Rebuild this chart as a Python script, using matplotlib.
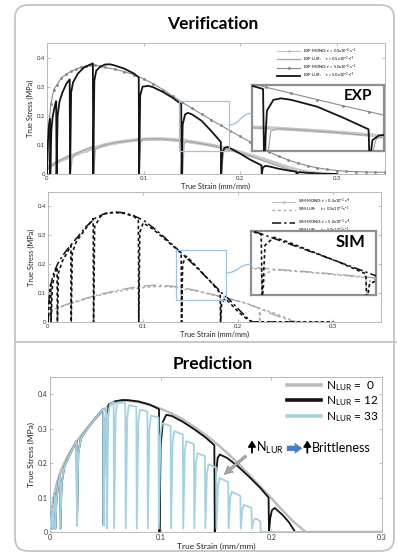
"""Verification / prediction panels for true stress-strain under loading-unloading-reloading (LUR)."""

import matplotlib

matplotlib.use("Agg")

import matplotlib.pyplot as plt  # noqa: E402
from matplotlib.lines import Line2D  # noqa: E402
from matplotlib.patches import FancyBboxPatch, PathPatch, Rectangle  # noqa: E402
from matplotlib.path import Path  # noqa: E402

plt.rcParams.update({
    "font.family": ["Lato", "DejaVu Sans"],
    "mathtext.fontset": "custom",
    "mathtext.rm": "Lato",
    "mathtext.it": "Lato:italic",
    "mathtext.bf": "Lato:bold",
})

# ---- experimental curves -------------------------------------------------
exp_mono_fast_strain = [0, 0.002, 0.004, 0.007, 0.01, 0.015, 0.02, 0.025, 0.03, 0.035, 0.04, 0.045,
                        0.05, 0.055, 0.06, 0.07, 0.08, 0.09, 0.1, 0.11, 0.12, 0.13, 0.14, 0.15, 0.16,
                        0.17, 0.18, 0.19, 0.2, 0.21, 0.22, 0.23, 0.24, 0.25, 0.26, 0.27, 0.28, 0.29,
                        0.3, 0.31, 0.32, 0.33, 0.34, 0.35]
exp_mono_fast_stress = [0, 0.17, 0.24, 0.29, 0.305, 0.33, 0.343, 0.353, 0.36, 0.366, 0.371, 0.375,
                        0.374, 0.37, 0.366, 0.36, 0.352, 0.341, 0.327, 0.31, 0.29, 0.268, 0.246, 0.226,
                        0.206, 0.186, 0.167, 0.148, 0.129, 0.111, 0.093, 0.076, 0.061, 0.048, 0.037,
                        0.028, 0.021, 0.016, 0.012, 0.009, 0.008, 0.007, 0.006, 0.006]

exp_lur_fast_strain = [0, 0.0008, 0.0018, 0.003, 0.0034, 0.0045, 0.006, 0.0085, 0.0095, 0.0099, 0.011,
                       0.013, 0.016, 0.02, 0.0235, 0.0239, 0.025, 0.027, 0.032, 0.038, 0.044, 0.0475,
                       0.0479, 0.049, 0.051, 0.055, 0.06, 0.065, 0.07, 0.08, 0.09, 0.095, 0.0954,
                       0.0965, 0.099, 0.105, 0.11, 0.12, 0.13, 0.139, 0.1394, 0.1405, 0.143, 0.146,
                       0.15, 0.16, 0.17, 0.18, 0.1804, 0.1815, 0.184, 0.187, 0.19, 0.2, 0.21, 0.222,
                       0.2224, 0.2235, 0.226, 0.23, 0.24, 0.25, 0.258, 0.2584, 0.2595, 0.262, 0.27,
                       0.28, 0.29, 0.3]
exp_lur_fast_stress = [0, 0.1, 0.16, 0.19, 0.0, 0.15, 0.2, 0.24, 0.25, 0.0, 0.2, 0.25, 0.28, 0.31,
                       0.325, 0.0, 0.28, 0.315, 0.345, 0.365, 0.375, 0.38, 0.0, 0.32, 0.355, 0.368,
                       0.376, 0.377, 0.373, 0.362, 0.345, 0.332, 0.0, 0.27, 0.3, 0.303, 0.298, 0.282,
                       0.262, 0.24, 0.0, 0.17, 0.205, 0.21, 0.205, 0.183, 0.148, 0.11, 0.0, 0.075,
                       0.09, 0.093, 0.088, 0.07, 0.05, 0.03, 0.0, 0.022, 0.028, 0.026, 0.018, 0.012,
                       0.008, 0.0, 0.004, 0.006, 0.004, 0.002, 0.001, 0.0]

exp_mono_slow_strain = [0, 0.01, 0.02, 0.03, 0.04, 0.05, 0.06, 0.07, 0.08, 0.09, 0.1, 0.11, 0.12, 0.13,
                        0.14, 0.15, 0.16, 0.17, 0.18, 0.19, 0.2, 0.21, 0.22, 0.23, 0.24, 0.25, 0.26,
                        0.27, 0.28]
exp_mono_slow_stress = [0.02, 0.04, 0.055, 0.068, 0.08, 0.09, 0.1, 0.107, 0.112, 0.116, 0.119, 0.12,
                        0.12, 0.118, 0.115, 0.11, 0.105, 0.099, 0.092, 0.084, 0.075, 0.065, 0.055,
                        0.044, 0.033, 0.022, 0.013, 0.006, 0.002]

exp_lur_slow_strain = [0, 0.001, 0.005, 0.01, 0.015, 0.024, 0.0244, 0.026, 0.03, 0.04, 0.048, 0.0484,
                       0.05, 0.06, 0.07, 0.08, 0.095, 0.0954, 0.097, 0.1, 0.11, 0.12, 0.13, 0.14,
                       0.1404, 0.142, 0.145, 0.15, 0.16, 0.17, 0.18, 0.1804, 0.183, 0.186, 0.2, 0.21,
                       0.22, 0.23, 0.24, 0.25, 0.26, 0.27, 0.28]
exp_lur_slow_stress = [0, 0.02, 0.03, 0.04, 0.05, 0.065, 0.0, 0.055, 0.07, 0.085, 0.095, 0.0, 0.085,
                       0.1, 0.107, 0.112, 0.118, 0.0, 0.11, 0.12, 0.121, 0.12, 0.117, 0.113, 0.0,
                       0.105, 0.112, 0.11, 0.104, 0.098, 0.09, 0.0, 0.08, 0.085, 0.072, 0.062, 0.05,
                       0.038, 0.027, 0.016, 0.008, 0.003, 0.0]

# ---- simulated curves ----------------------------------------------------
sim_mono_fast_strain = [0, 0.001, 0.003, 0.006, 0.01, 0.015, 0.02, 0.03, 0.04, 0.05, 0.06, 0.07, 0.08,
                        0.09, 0.1, 0.11, 0.12, 0.13, 0.14, 0.15, 0.16, 0.17, 0.18, 0.185, 0.19, 0.2,
                        0.21, 0.215, 0.26]
sim_mono_fast_stress = [0, 0.07, 0.13, 0.17, 0.2, 0.228, 0.25, 0.29, 0.33, 0.36, 0.376, 0.381, 0.378,
                        0.368, 0.353, 0.328, 0.3, 0.27, 0.24, 0.208, 0.176, 0.143, 0.11, 0.093, 0.08,
                        0.045, 0.012, 0.0, 0.0]

sim_lur_fast_strain = [0, 0.001, 0.0028, 0.0032, 0.0045, 0.007, 0.0095, 0.0099, 0.011, 0.015, 0.02,
                       0.024, 0.0244, 0.0255, 0.03, 0.04, 0.0475, 0.0479, 0.049, 0.055, 0.06, 0.07,
                       0.08, 0.09, 0.095, 0.0954, 0.0965, 0.1, 0.11, 0.12, 0.13, 0.14, 0.1404, 0.1415,
                       0.145, 0.15, 0.16, 0.17, 0.181, 0.1814, 0.1825, 0.186, 0.19, 0.2, 0.21, 0.215,
                       0.3]
sim_lur_fast_stress = [0, 0.07, 0.13, 0.0, 0.12, 0.17, 0.19, 0.0, 0.17, 0.21, 0.24, 0.265, 0.0, 0.24,
                       0.28, 0.325, 0.358, 0.0, 0.33, 0.365, 0.375, 0.379, 0.376, 0.366, 0.352, 0.0,
                       0.31, 0.343, 0.322, 0.295, 0.267, 0.238, 0.0, 0.2, 0.228, 0.213, 0.178, 0.143,
                       0.1, 0.0, 0.065, 0.08, 0.07, 0.035, 0.008, 0.0, 0.0]

sim_mono_slow_strain = [0, 0.002, 0.005, 0.01, 0.02, 0.03, 0.04, 0.05, 0.06, 0.07, 0.08, 0.09, 0.1, 0.11,
                        0.12, 0.13, 0.14, 0.15, 0.16, 0.17, 0.18, 0.19, 0.2, 0.21, 0.22, 0.23, 0.24,
                        0.25, 0.26, 0.3]
sim_mono_slow_stress = [0, 0.03, 0.042, 0.048, 0.062, 0.072, 0.082, 0.092, 0.1, 0.107, 0.114, 0.12,
                        0.124, 0.127, 0.127, 0.124, 0.12, 0.113, 0.106, 0.098, 0.09, 0.081, 0.072,
                        0.062, 0.05, 0.036, 0.022, 0.01, 0.0, 0.0]

sim_lur_slow_strain = [0, 0.002, 0.005, 0.01, 0.02, 0.03, 0.04, 0.05, 0.06, 0.07, 0.08, 0.09, 0.1, 0.11,
                       0.12, 0.13, 0.14, 0.1404, 0.1415, 0.145, 0.15, 0.16, 0.17, 0.181, 0.1814, 0.1825,
                       0.186, 0.19, 0.2, 0.21, 0.222, 0.2224, 0.2235, 0.227, 0.23, 0.24, 0.25, 0.26,
                       0.3]
sim_lur_slow_stress = [0, 0.03, 0.042, 0.048, 0.06, 0.07, 0.08, 0.089, 0.097, 0.104, 0.11, 0.115, 0.119,
                       0.122, 0.123, 0.121, 0.117, 0.0, 0.1, 0.114, 0.111, 0.104, 0.096, 0.087, 0.0,
                       0.075, 0.085, 0.082, 0.073, 0.063, 0.048, 0.0, 0.035, 0.043, 0.04, 0.028, 0.014,
                       0.002, 0.0]

# ---- predicted curves (number of LUR cycles) -----------------------------
pred_n0_strain = [0, 0.001, 0.003, 0.006, 0.01, 0.015, 0.02, 0.025, 0.03, 0.04, 0.05, 0.055, 0.06, 0.065,
                  0.07, 0.08, 0.09, 0.1, 0.11, 0.12, 0.13, 0.14, 0.15, 0.16, 0.17, 0.18, 0.19, 0.2,
                  0.21, 0.22, 0.231, 0.3]
pred_n0_stress = [0, 0.045, 0.095, 0.14, 0.18, 0.214, 0.242, 0.267, 0.288, 0.326, 0.358, 0.37, 0.378,
                  0.381, 0.381, 0.377, 0.369, 0.358, 0.344, 0.327, 0.306, 0.283, 0.258, 0.23, 0.199,
                  0.166, 0.132, 0.098, 0.063, 0.03, 0.0, 0.0]

pred_n12_strain = [0, 0.001, 0.002, 0.0023, 0.003, 0.0045, 0.0048, 0.0058, 0.0075, 0.009, 0.0093,
                   0.0105, 0.013, 0.018, 0.024, 0.0244, 0.0256, 0.028, 0.035, 0.042, 0.048, 0.0484,
                   0.0496, 0.053, 0.058, 0.065, 0.07, 0.08, 0.09, 0.0985, 0.0989, 0.1, 0.102, 0.105,
                   0.11, 0.12, 0.13, 0.14, 0.1485, 0.1489, 0.15, 0.1515, 0.1535, 0.16, 0.17, 0.18,
                   0.19, 0.1975, 0.1979, 0.199, 0.2005, 0.203, 0.21, 0.216, 0.2215, 0.3]
pred_n12_stress = [0, 0.045, 0.07, 0.01, 0.06, 0.11, 0.01, 0.09, 0.14, 0.165, 0.01, 0.14, 0.19, 0.225,
                   0.265, 0.02, 0.23, 0.272, 0.305, 0.335, 0.358, 0.02, 0.32, 0.37, 0.379, 0.383,
                   0.383, 0.379, 0.37, 0.357, 0.0, 0.25, 0.32, 0.34, 0.337, 0.32, 0.299, 0.276, 0.252,
                   0.0, 0.17, 0.215, 0.225, 0.215, 0.19, 0.16, 0.128, 0.1, 0.0, 0.04, 0.063, 0.07,
                   0.05, 0.028, 0.0, 0.0]

pred_n33_strain = [0, 0.001, 0.002, 0.0023, 0.003, 0.0045, 0.0048, 0.0058, 0.0075, 0.009, 0.0093,
                   0.0105, 0.013, 0.018, 0.024, 0.0244, 0.0256, 0.028, 0.035, 0.042, 0.048, 0.0484,
                   0.0496, 0.051, 0.0514, 0.0526, 0.054, 0.0575,
                   0.0579, 0.0593, 0.0607, 0.068,
                   0.0684, 0.0698, 0.0712, 0.078,
                   0.0784, 0.0798, 0.0812, 0.088,
                   0.0884, 0.0898, 0.0912, 0.098,
                   0.0984, 0.0998, 0.1012, 0.109,
                   0.1094, 0.1108, 0.1122, 0.12,
                   0.1204, 0.1218, 0.1232, 0.13,
                   0.1304, 0.1318, 0.1332, 0.14,
                   0.1404, 0.1418, 0.1432, 0.15,
                   0.1504, 0.1518, 0.1532, 0.161,
                   0.1614, 0.1628, 0.1642, 0.172,
                   0.1724, 0.1738, 0.1752, 0.182,
                   0.1824, 0.1838, 0.1852, 0.19,
                   0.1904, 0.3]
pred_n33_stress = [0, 0.045, 0.07, 0.01, 0.06, 0.11, 0.01, 0.09, 0.14, 0.165, 0.01, 0.14, 0.19, 0.225,
                   0.265, 0.02, 0.23, 0.272, 0.305, 0.335, 0.358, 0.02, 0.32, 0.362, 0.01, 0.33, 0.37,
                   0.378,
                   0.01, 0.34, 0.376, 0.374,
                   0.01, 0.33, 0.368, 0.364,
                   0.01, 0.32, 0.355, 0.35,
                   0.01, 0.3, 0.338, 0.332,
                   0.01, 0.28, 0.316, 0.308,
                   0.01, 0.26, 0.293, 0.283,
                   0.01, 0.235, 0.264, 0.255,
                   0.01, 0.2, 0.229, 0.22,
                   0.01, 0.17, 0.197, 0.187,
                   0.01, 0.135, 0.157, 0.145,
                   0.01, 0.1, 0.117, 0.105,
                   0.01, 0.065, 0.079, 0.07,
                   0.01, 0.03, 0.04, 0.032,
                   0.0, 0.0]

stress_ticks = [0, 0.1, 0.2, 0.3, 0.4]
stress_labels = ["0", "0.1", "0.2", "0.3", "0.4"]
strain_ticks = [0, 0.1, 0.2, 0.3]
strain_labels = ["0", "0.1", "0.2", "0.3"]

rate_slow = r"$\dot{\varepsilon}$ = 0.5x10$^{-3}$ s$^{-1}$"
rate_fast = r"$\dot{\varepsilon}$ = 5.0x10$^{-3}$ s$^{-1}$"

W, H = 397, 555
LIGHT_BLUE = "#9dc3e6"

# line styles shared by the main axes, the insets and the legends
EXP_STYLES = {
    "mono_slow": dict(color="#c8c8c8", lw=2.6, marker="o", ms=1.2),
    "lur_slow": dict(color="#a6a6a6", lw=0.9),
    "mono_fast": dict(color="#8a8a8a", lw=0.8, marker="o", ms=1.1),
    "lur_fast": dict(color="#151515", lw=1.3),
}
SIM_STYLES = {
    "mono_slow": dict(color="#a8a8a8", lw=1.0, ls=(0, (9, 2.5, 1.5, 2.5))),
    "lur_slow": dict(color="#a8a8a8", lw=1.0, ls=(0, (2, 2))),
    "mono_fast": dict(color="#111111", lw=1.1, ls=(0, (6, 2, 1.5, 2))),
    "lur_fast": dict(color="#111111", lw=1.2, ls=(0, (2, 1.6))),
}


def px_box(left, top, right, bottom):
    return [left / W, 1 - bottom / H, (right - left) / W, (bottom - top) / H]


def style_main(ax, xmax, tick_size, label_size):
    ax.set_xlim(0, xmax)
    ax.set_ylim(0, 0.45)
    ax.set_xticks(strain_ticks)
    ax.set_xticklabels(strain_labels)
    ax.set_yticks(stress_ticks)
    ax.set_yticklabels(stress_labels)
    for spine in ax.spines.values():
        spine.set_color("#b8b8b8")
        spine.set_linewidth(0.7)
    ax.tick_params(direction="in", length=2, width=0.5, color="#a0a0a0", labelsize=tick_size,
                   labelcolor="#333333", pad=1.5, top=True, right=True)
    ax.set_xlabel("True Strain (mm/mm)", fontsize=label_size, labelpad=1, color="#222222")
    ax.set_ylabel("True Stress (MPa)", fontsize=label_size, labelpad=2, color="#222222")


def style_inset(ax, xlim, ylim):
    ax.set_xlim(*xlim)
    ax.set_ylim(*ylim)
    ax.set_xticks([])
    ax.set_yticks([])
    for spine in ax.spines.values():
        spine.set_color("#8f8f8f")
        spine.set_linewidth(1.6)


def draw_exp(ax):
    s = EXP_STYLES
    ax.plot(exp_mono_slow_strain, exp_mono_slow_stress, zorder=1, **s["mono_slow"])
    ax.plot(exp_lur_slow_strain, exp_lur_slow_stress, zorder=2, **s["lur_slow"])
    ax.plot(exp_mono_fast_strain, exp_mono_fast_stress, zorder=3, **s["mono_fast"])
    ax.plot(exp_lur_fast_strain, exp_lur_fast_stress, zorder=4, **s["lur_fast"])


def draw_sim(ax):
    s = SIM_STYLES
    ax.plot(sim_mono_slow_strain, sim_mono_slow_stress, zorder=1, **s["mono_slow"])
    ax.plot(sim_lur_slow_strain, sim_lur_slow_stress, zorder=2, **s["lur_slow"])
    ax.plot(sim_mono_fast_strain, sim_mono_fast_stress, zorder=3, **s["mono_fast"])
    ax.plot(sim_lur_fast_strain, sim_lur_fast_stress, zorder=4, **s["lur_fast"])


def rate_legends(ax, prefix, styles, right, top_slow, top_fast):
    """Two tiny two-row legends: slow rate pair above, fast rate pair below."""
    thin = {"mono_slow": dict(color="#c0c0c0", lw=0.8, marker="o", ms=1.0)}
    rows = [("mono_slow", f"{prefix}-MONO: " + rate_slow),
            ("lur_slow", f"{prefix}-LUR:     " + rate_slow),
            ("mono_fast", f"{prefix}-MONO: " + rate_fast),
            ("lur_fast", f"{prefix}-LUR:     " + rate_fast)]
    handles = [Line2D([], [], label=text, **thin.get(key, styles[key])) for key, text in rows]
    common = dict(loc="upper right", frameon=False, fontsize=2.9, handlelength=5.8,
                  handletextpad=0.6, labelspacing=-0.3, borderpad=0, borderaxespad=0)
    first = ax.legend(handles=handles[:2], bbox_to_anchor=(right, top_slow), **common)
    ax.add_artist(first)
    ax.legend(handles=handles[2:], bbox_to_anchor=(right, top_fast), **common)


def s_link(fig, ax_from, data_pt, ax_to, axes_pt):
    to_fig = fig.transFigure.inverted()
    p0 = to_fig.transform(ax_from.transData.transform(data_pt))
    p3 = to_fig.transform(ax_to.transAxes.transform(axes_pt))
    mid = (p0[0] + p3[0]) / 2
    path = Path([p0, (mid, p0[1]), (mid, p3[1]), p3],
                [Path.MOVETO, Path.CURVE4, Path.CURVE4, Path.CURVE4])
    fig.patches.append(PathPatch(path, transform=fig.transFigure, fill=False,
                                 ec=LIGHT_BLUE, lw=1.0, zorder=5))


fig = plt.figure(figsize=(W / 100, H / 100), dpi=100)

# panel frames (inch coordinates keep the corners round)
fig.patches.append(FancyBboxPatch((0.15, (H - 551) / 100), 3.79, 5.46,
                                  boxstyle="round,pad=0,rounding_size=0.13",
                                  transform=fig.dpi_scale_trans, fill=False,
                                  ec="#c4c4c4", lw=1.3))
fig.add_artist(Line2D([15 / W, 1.0], [1 - 342 / H, 1 - 342 / H], transform=fig.transFigure,
                      color="#c4c4c4", lw=1.3))

fig.text(213 / W, 1 - 24 / H, "Verification", ha="center", va="center", fontsize=12.5,
         fontweight="bold")
fig.text(213 / W, 1 - 364 / H, "Prediction", ha="center", va="center", fontsize=12.5,
         fontweight="bold")

# experiments
ax_exp = fig.add_axes(px_box(47, 43, 385, 174))
style_main(ax_exp, 0.35, 4.3, 5.3)
draw_exp(ax_exp)
rate_legends(ax_exp, "EXP", EXP_STYLES, 0.915, 0.975, 0.85)
ax_exp.add_patch(Rectangle((0.137, 0.08), 0.051, 0.17, fill=False, ec=LIGHT_BLUE, lw=0.9, zorder=6))

in_exp = fig.add_axes(px_box(252, 85, 384, 151))
draw_exp(in_exp)
style_inset(in_exp, (0.1347, 0.186), (0.04, 0.253))
in_exp.text(0.8, 0.83, "EXP", transform=in_exp.transAxes, ha="center", va="center",
            fontsize=11, fontweight="bold")

# simulations
ax_sim = fig.add_axes(px_box(48, 192, 381, 322))
style_main(ax_sim, 0.35, 4.3, 5.3)
draw_sim(ax_sim)
rate_legends(ax_sim, "SIM", SIM_STYLES, 0.91, 0.965, 0.8)
ax_sim.add_patch(Rectangle((0.1347, 0.0756), 0.0523, 0.1744, fill=False, ec=LIGHT_BLUE, lw=0.9,
                           zorder=6))

in_sim = fig.add_axes(px_box(251, 231, 376, 295))
draw_sim(in_sim)
style_inset(in_sim, (0.136, 0.185), (0.026, 0.25))
in_sim.text(0.8, 0.83, "SIM", transform=in_sim.transAxes, ha="center", va="center",
            fontsize=12, fontweight="bold")

s_link(fig, ax_exp, (0.188, 0.168), in_exp, (0, 0.57))
s_link(fig, ax_sim, (0.187, 0.17), in_sim, (0, 0.48))

# prediction
ax_pred = fig.add_axes(px_box(50, 377, 382, 532))
style_main(ax_pred, 0.3, 5, 6)
ax_pred.plot(pred_n0_strain, pred_n0_stress, color="#bdbdbd", lw=1.8, zorder=2)
ax_pred.plot(pred_n12_strain, pred_n12_stress, color="#111111", lw=1.3, zorder=3)
ax_pred.plot(pred_n33_strain, pred_n33_stress, color="#a3d3e2", lw=1.3, zorder=4)

legend_handles = [
    Line2D([], [], color="#bdbdbd", lw=2.6, label=r"N$_{\mathrm{LUR}}$ =  0"),
    Line2D([], [], color="#111111", lw=2.6, label=r"N$_{\mathrm{LUR}}$ = 12"),
    Line2D([], [], color="#a3d3e2", lw=2.6, label=r"N$_{\mathrm{LUR}}$ = 33"),
]
ax_pred.legend(handles=legend_handles, loc="upper right", bbox_to_anchor=(0.99, 0.985),
               frameon=False, fontsize=8.5, handlelength=2.9, handletextpad=0.4,
               labelspacing=0.12, borderpad=0, borderaxespad=0)

# "more cycles -> more brittle" note
up = dict(arrowstyle="-|>,head_width=0.22,head_length=0.35", color="black", lw=1.3)
ax_pred.annotate("", xy=(0.1825, 0.274), xytext=(0.1825, 0.222), arrowprops=up)
ax_pred.annotate("", xy=(0.2325, 0.274), xytext=(0.2325, 0.222), arrowprops=up)
ax_pred.text(0.1862, 0.243, r"N$_{\mathrm{LUR}}$", fontsize=9, ha="left", va="center")
ax_pred.text(0.2365, 0.243, "Brittleness", fontsize=9, ha="left", va="center")
ax_pred.annotate("", xy=(0.2305, 0.243), xytext=(0.2115, 0.243),
                 arrowprops=dict(arrowstyle="simple,head_width=0.8,head_length=0.55,tail_width=0.38",
                                 fc="#4a7bd0", ec="none", mutation_scale=10))
ax_pred.annotate("", xy=(0.1555, 0.162), xytext=(0.179, 0.226),
                 arrowprops=dict(arrowstyle="simple,head_width=0.6,head_length=0.6,tail_width=0.18",
                                 fc="#a8a8a8", ec="#808080", lw=0.4, mutation_scale=10),
                 zorder=7)

fig.savefig("out.png", dpi=100)
